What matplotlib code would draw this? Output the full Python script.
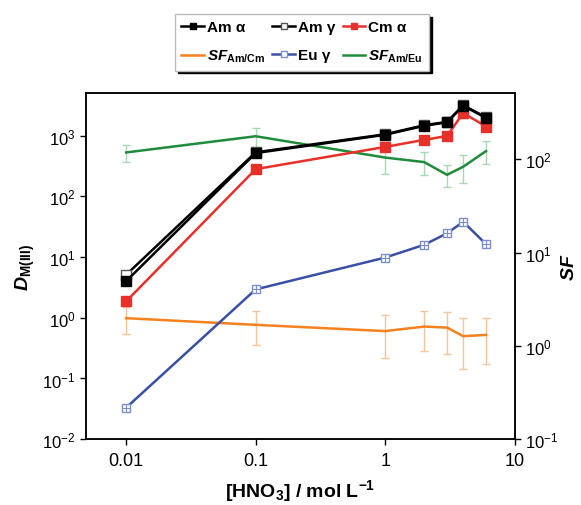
import matplotlib
matplotlib.use("Agg")
import matplotlib.pyplot as plt
from matplotlib.lines import Line2D

plt.rcParams['font.family'] = ['Liberation Sans', 'DejaVu Sans']
plt.rcParams['mathtext.fontset'] = 'custom'
plt.rcParams['mathtext.rm'] = 'Liberation Sans'
plt.rcParams['mathtext.it'] = 'Liberation Sans:italic'
plt.rcParams['mathtext.bf'] = 'Liberation Sans:bold'
plt.rcParams['mathtext.bfit'] = 'Liberation Sans:italic:bold'
plt.rcParams['axes.unicode_minus'] = False

# data
hno3 = [0.01, 0.1, 1, 2, 3, 4, 6]

am_alpha = [4.0, 515, 1030, 1450, 1650, 3100, 1950]
am_alpha_err = [0.4, 70, 130, 200, 230, 450, 280]
am_gamma = [5.1, 530, 1050, 1480, 1680, 3150, 2000]
cm_alpha = [1.86, 280, 650, 850, 985, 2350, 1410]
cm_alpha_err = [0.2, 40, 90, 120, 140, 380, 220]
eu_gamma = [0.033, 2.93, 9.8, 15.9, 24.6, 38, 16.3]

sf_am_cm = [1.98, 1.68, 1.44, 1.61, 1.57, 1.27, 1.31]
sf_am_cm_err = [0.63, 0.67, 0.70, 0.73, 0.76, 0.71, 0.67]
sf_am_eu = [118, 176, 104, 93, 68, 83, 122]
sf_am_eu_err = [25, 40, 35, 25, 18, 27, 34]

black = '#000000'
red = '#e8302a'
blue = '#3a50a6'
blue_mk = '#7b8fd0'
orange = '#f5821f'
green = '#1e8c3a'
lw = 1.8

fig = plt.figure(figsize=(5.81, 5.06), dpi=100)
ax = fig.add_axes([0.148, 0.130, 0.738, 0.684])
ax2 = ax.twinx()

# right axis (SF) series
ax2.errorbar(hno3, sf_am_cm, yerr=sf_am_cm_err, color=orange, lw=lw,
             ecolor='#f9c49a', elinewidth=1, capsize=3, zorder=2)
ax2.errorbar(hno3, sf_am_eu, yerr=sf_am_eu_err, color=green, lw=lw,
             ecolor='#a8d8b4', elinewidth=1, capsize=3, zorder=2)

# left axis (D) series
ax.set_zorder(ax2.get_zorder() + 1)
ax.patch.set_visible(False)
ax.plot(hno3, eu_gamma, color=blue, lw=lw, marker='s', ms=6,
        mfc='white', mec=blue_mk, mew=1, zorder=3)
ax.plot(hno3, eu_gamma, ls='none', marker='+', ms=6, mec=blue_mk, mew=0.8, zorder=4)
ax.plot(hno3, am_gamma, color=black, lw=lw, marker='s', ms=6.5,
        mfc='white', mec='#555555', mew=1, zorder=3)
ax.errorbar(hno3, cm_alpha, yerr=cm_alpha_err, color=red, lw=lw, marker='s',
            ms=6.5, ecolor='#f08a86', elinewidth=1, capsize=3, zorder=4)
ax.errorbar(hno3, am_alpha, yerr=am_alpha_err, color=black, lw=lw, marker='s',
            ms=6.5, ecolor='#888888', elinewidth=1, capsize=3, zorder=5)

ax.set_xscale('log')
ax.set_yscale('log')
ax2.set_yscale('log')
ax.set_xlim(0.0049, 10)
ax.set_ylim(0.01, 5000)
ax2.set_ylim(0.1, 510)
ax.set_xticks([0.01, 0.1, 1, 10])
ax.set_xticklabels(['0.01', '0.1', '1', '10'])
ax.set_yticks([1e-2, 1e-1, 1, 10, 100, 1000])
ax2.set_yticks([0.1, 1, 10, 100])
for a in (ax, ax2):
    a.minorticks_off()
    a.tick_params(labelsize=12, length=4, width=1, direction='out')
    for s in a.spines.values():
        s.set_linewidth(1.1)
ax.tick_params(axis='x', labelsize=13, pad=5)
ax.tick_params(axis='y', labelsize=12)

ax.set_xlabel(r'[HNO$_\mathbf{3}$] / mol L$^{\mathbf{-1}}$', fontsize=14,
              fontweight='bold', labelpad=6)
ax.set_ylabel(r'$\mathbfit{D}_{\mathbf{M(III)}}$', fontsize=14, labelpad=4)
ax2.set_ylabel(r'$\mathbfit{SF}$', fontsize=14, labelpad=2)

# legend, filled row by row
h_am_a = Line2D([], [], color=black, lw=lw, marker='s', ms=5)
h_am_g = Line2D([], [], color=black, lw=lw, marker='s', ms=5, mfc='white', mec='#555555')
h_cm_a = Line2D([], [], color=red, lw=lw, marker='s', ms=5)
h_sf_cm = Line2D([], [], color=orange, lw=lw)
h_eu_g = Line2D([], [], color=blue, lw=lw, marker='s', ms=5, mfc='white', mec=blue_mk)
h_sf_eu = Line2D([], [], color=green, lw=lw)
handles = [h_am_a, h_sf_cm, h_am_g, h_eu_g, h_cm_a, h_sf_eu]
labels = ['Am α', r'$\mathbfit{SF}_{\mathbf{Am/Cm}}$', 'Am γ', 'Eu γ', 'Cm α',
          r'$\mathbfit{SF}_{\mathbf{Am/Eu}}$']
leg = fig.legend(handles, labels, ncol=3, loc='upper left',
                 bbox_to_anchor=(0.288, 0.985), fancybox=False,
                 shadow={'color': 'black', 'alpha': 1},
                 edgecolor='#bbbbbb', handlelength=1.5, handletextpad=0.2,
                 columnspacing=0.45, borderpad=0.4, labelspacing=0.9,
                 prop={'weight': 'bold', 'size': 11})

fig.savefig('out.png', dpi=100)
